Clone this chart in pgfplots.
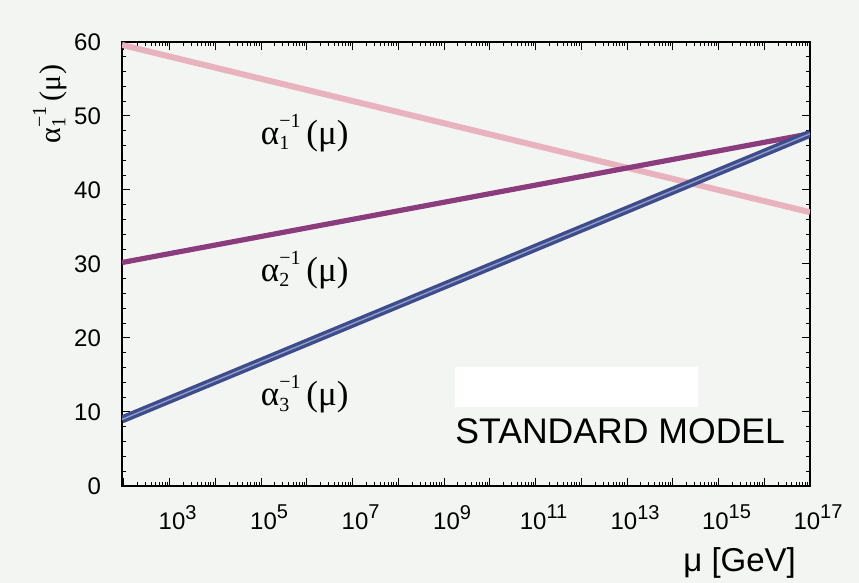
\documentclass[border=0pt]{standalone}
\usepackage{pgfplots}
\pgfplotsset{compat=1.18}
\usepackage{fontspec}
\setmainfont{Liberation Sans}
\newfontfamily\serif{Liberation Serif}
\definecolor{bgc}{HTML}{F3F5F2}
\definecolor{pinkl}{HTML}{E8B2BF}
\definecolor{purp}{HTML}{8A3C7C}
\definecolor{blu}{HTML}{3F4C8C}
\definecolor{bluin}{HTML}{8F9CC8}
\newcommand{\alab}[1]{{\serif α\raisebox{-0.35ex}{\rlap{\fontsize{10}{10}\selectfont #1}}\raisebox{1.05ex}{\fontsize{10}{10}\selectfont −1}\,(μ)}}
\newcommand{\supx}[1]{10\raisebox{0.85ex}{\fontsize{10}{10}\selectfont #1}}
\begin{document}
\begin{tikzpicture}[x=1pt,y=1pt]
\fill[bgc] (-61,-48.5) rectangle (368.5,243);
\path[use as bounding box] (-61,-48.5) rectangle (368.5,243);
\begin{axis}[
  scale only axis,
  width=344pt, height=222pt,
  xmode=log,
  xmin=91, xmax=1e17,
  ymin=0, ymax=60,
  ytick={0,10,20,30,40,50,60},
  minor y tick num=4,
  xtick={1e2,1e3,1e4,1e5,1e6,1e7,1e8,1e9,1e10,1e11,1e12,1e13,1e14,1e15,1e16,1e17},
  xticklabels={{},{\supx{3}},{},{\supx{5}},{},{\supx{7}},{},{\supx{9}},{},{\supx{11}},{},{\supx{13}},{},{\supx{15}},{},{\supx{17}}},
  tick align=inside,
  tick pos=both,
  major tick length=4pt,
  minor tick length=2pt,
  axis line style={line width=1.1pt},
  every tick/.style={black, line width=0.5pt},
  /pgf/number format/assume math mode=true,
  tick label style={font=\fontsize{12}{14}\selectfont},
  yticklabel style={xshift=-7pt},
  xticklabel style={yshift=-6pt, xshift=4pt},
  axis background/.style={fill=bgc},
  clip=true,
]
\fill[white] (axis cs:1.74e9,10.7) rectangle (axis cs:3.55e14,16.1);
\addplot[pinkl, line width=3pt] coordinates {(91,59.6) (1e17,37.0)};
\addplot[purp, line width=2.6pt] coordinates {(91,30.2) (1e17,47.6)};
\addplot[blu, line width=4pt] coordinates {(91,9.0) (1e17,47.6)};
\addplot[bluin, line width=0.7pt] coordinates {(91,9.0) (1e17,47.6)};
\node[font=\fontsize{17.5}{19}\selectfont] at (axis cs:9e5,47.7) {\alab{1}};
\node[font=\fontsize{17.5}{19}\selectfont] at (axis cs:9e5,29.2) {\alab{2}};
\node[font=\fontsize{17.5}{19}\selectfont] at (axis cs:9e5,12.4) {\alab{3}};
\node[font=\fontsize{17.8}{20}\selectfont] at (axis cs:7.1e12,7.4) {STANDARD MODEL};
\end{axis}
\node[rotate=90, font=\fontsize{15}{17}\selectfont] at (-36,191) {\alab{1}};
\node[font=\fontsize{16.5}{18}\selectfont, anchor=east] at (340.5,-38.5) {μ [GeV]};
\end{tikzpicture}
\end{document}
